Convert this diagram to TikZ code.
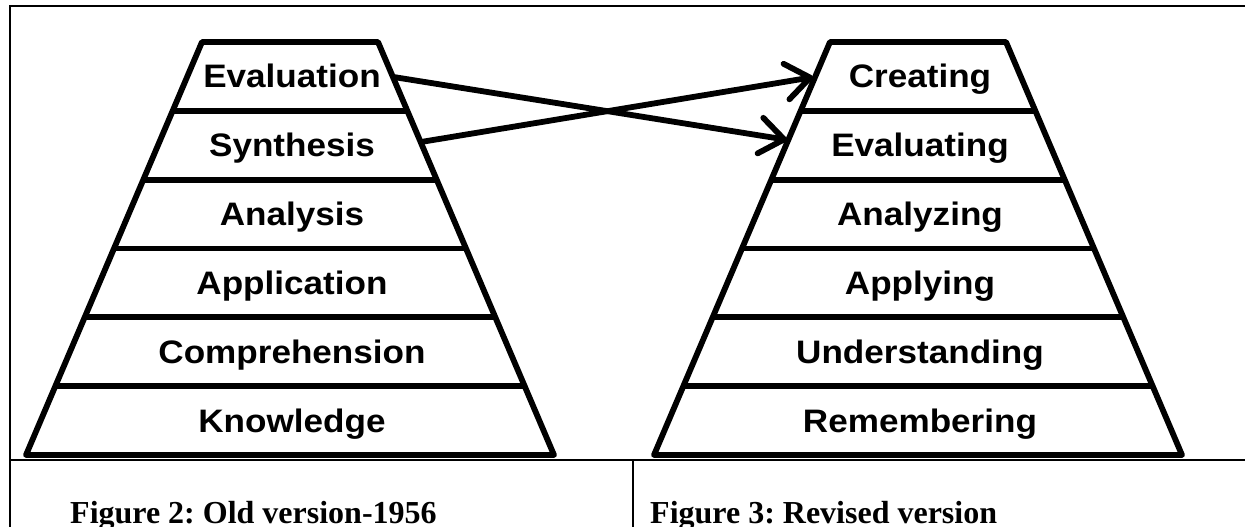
\documentclass[tikz,border=0pt]{standalone}
\usepackage{fontspec}
\usetikzlibrary{arrows.meta,calc}
\newfontfamily\layerfont[FakeStretch=1.08]{Liberation Sans}
\newfontfamily\capfont{Liberation Serif}
\frenchspacing

\begin{document}
\begin{tikzpicture}[x=1bp,y=-1bp,
  frame/.style={line width=2.2bp, line cap=rect},
  tier/.style={line width=5.8bp, line join=round},
  tierlabel/.style={font=\layerfont\bfseries\fontsize{32.5bp}{36bp}\selectfont,
    inner sep=0pt, text height=23bp, text depth=0pt},
  figcaption/.style={font=\capfont\bfseries\fontsize{32bp}{38bp}\selectfont,
    inner sep=0pt, anchor=base west},
  crossarrow/.style={line width=5.8bp, line cap=round,
    -{Straight Barb[length=24bp,width=36bp,round]}, shorten >=1bp}
]
\useasboundingbox (0,0) rectangle (1245,527);

% table rules
\draw[frame] (1245,6) -- (10,6) -- (10,527);
\draw[frame] (10,460) -- (1245,460);
\draw[frame] (633,460) -- (633,527);

% the two pyramids: outline and five separators each
\foreach \cx in {290,918}{
  \draw[tier] (\cx-88,42) -- (\cx+88,42) -- (\cx+264,455) -- (\cx-264,455) -- cycle;
  \foreach \k in {1,...,5}
    \draw[tier] ({\cx-88-\k*29.333},{42+\k*68.833}) -- ({\cx+88+\k*29.333},{42+\k*68.833});
}

% layer labels, 1956 version
\foreach \nm/\txt [count=\i from 0] in {evaluation/Evaluation, synthesis/Synthesis,
    analysis/Analysis, application/Application, comprehension/Comprehension,
    knowledge/Knowledge}
  \node[tierlabel] (\nm) at (292,{42+(\i+0.5)*68.833}) {\txt};

% layer labels, revised version
\foreach \nm/\txt [count=\i from 0] in {creating/Creating, evaluating/Evaluating,
    analyzing/Analyzing, applying/Applying, understanding/Understanding,
    remembering/Remembering}
  \node[tierlabel] (\nm) at (920,{42+(\i+0.5)*68.833}) {\txt};

% points on the slanted sides where the arrows start and end
\coordinate (evaluation-side) at (393.5,77);
\coordinate (synthesis-side)  at (421,142);
\coordinate (creating-side)   at (814,77);
\coordinate (evaluating-side) at (788,140);

\draw[crossarrow] (evaluation-side) -- (evaluating-side);
\draw[crossarrow] (synthesis-side) -- (creating-side);

% captions
\node[figcaption] (oldcap) at (70,523) {Figure 2: Old version-1956};
\node[figcaption] (newcap) at (650,523) {Figure 3: Revised version};
\end{tikzpicture}
\end{document}
